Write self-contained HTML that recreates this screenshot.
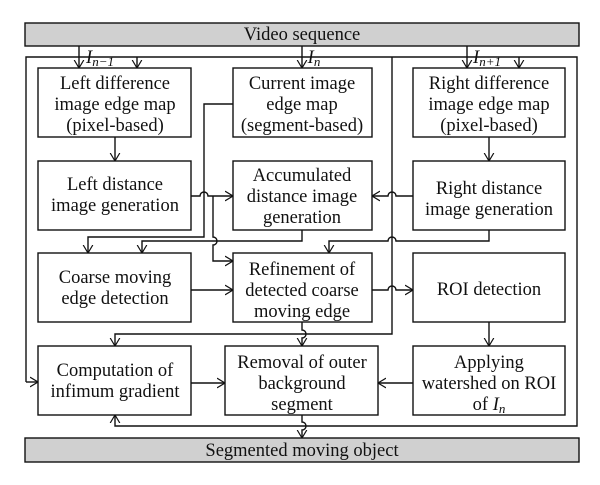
<!DOCTYPE html>
<html><head><meta charset="utf-8"><style>
html,body{margin:0;padding:0;background:#fff}
svg{display:block}
text{font-family:"Liberation Serif",serif;font-size:18.5px;fill:#111;text-anchor:middle}
.i{font-style:italic}
</style></head><body>
<svg width="600" height="485" viewBox="0 0 600 485" xmlns="http://www.w3.org/2000/svg">
<defs>
<marker id="a" viewBox="0 0 10 12" refX="10" refY="6" markerWidth="8" markerHeight="11" orient="auto" markerUnits="userSpaceOnUse">
<path d="M0,0 L10,6 L0,12" fill="none" stroke="#111" stroke-width="1.5"/></marker>
</defs>
<g fill="none" stroke="#111" stroke-width="1.4">
<rect x="25" y="23" width="554" height="23" fill="#d0d0d0"/>
<rect x="25" y="438" width="554" height="24" fill="#d0d0d0"/>
<path d="M26,382 V57 H577 V426 H302"/>
<path d="M26,382 H38" marker-end="url(#a)"/>
<path d="M302,426 H115 V415" marker-end="url(#a)"/>
<rect x="38" y="68" width="153" height="69"/>
<rect x="233" y="68" width="139" height="69"/>
<rect x="413" y="68" width="152" height="69"/>
<rect x="38" y="161" width="153" height="69"/>
<rect x="233" y="161" width="139" height="69"/>
<rect x="413" y="161" width="152" height="69"/>
<rect x="38" y="253" width="153" height="69"/>
<rect x="233" y="253" width="139" height="69"/>
<rect x="413" y="253" width="152" height="69"/>
<rect x="38" y="346" width="153" height="69"/>
<rect x="225" y="346" width="153" height="69"/>
<rect x="413" y="346" width="152" height="69"/>
<path d="M79,46 V68" marker-end="url(#a)"/>
<path d="M137,57 V68" marker-end="url(#a)"/>
<path d="M302,46 V68" marker-end="url(#a)"/>
<path d="M467,46 V68" marker-end="url(#a)"/>
<path d="M519,57 V68" marker-end="url(#a)"/>
<path d="M115,137 V161" marker-end="url(#a)"/>
<path d="M489,137 V161" marker-end="url(#a)"/>
<path d="M233,104 H204 V237 H88 V253" marker-end="url(#a)"/>
<path d="M191,196 H200 A4,4 0 0 1 208,196 H233" marker-end="url(#a)"/>
<path d="M213,196 V237 A4,4 0 0 1 213,245 V261 H233" marker-end="url(#a)"/>
<path d="M302,230 V241 H142 V253" marker-end="url(#a)"/>
<path d="M413,196 H396 A4,4 0 0 0 388,196 H372" marker-end="url(#a)"/>
<path d="M489,230 V241 H396 A4,4 0 0 0 388,241 H329 V253" marker-end="url(#a)"/>
<path d="M392,57 V334 H115 V346" marker-end="url(#a)"/>
<path d="M191,290 H233" marker-end="url(#a)"/>
<path d="M372,290 H388 A4,4 0 0 1 396,290 H413" marker-end="url(#a)"/>
<path d="M489,322 V346" marker-end="url(#a)"/>
<path d="M302,322 V330 A4,4 0 0 1 302,338 V346" marker-end="url(#a)"/>
<path d="M191,383 H225" marker-end="url(#a)"/>
<path d="M413,383 H378" marker-end="url(#a)"/>
<path d="M302,415 V422 A4,4 0 0 1 302,430 V438" marker-end="url(#a)"/>
</g>
<text x="302" y="40">Video sequence</text>
<text x="302" y="456">Segmented moving object</text>
<text class="i" x="100" y="63">I<tspan font-size="13" dy="3">n−1</tspan></text>
<text class="i" x="314" y="63">I<tspan font-size="13" dy="3">n</tspan></text>
<text class="i" x="487" y="63">I<tspan font-size="13" dy="3">n+1</tspan></text>
<text x="115" y="89">Left difference</text><text x="115" y="110">image edge map</text><text x="115" y="131">(pixel-based)</text>
<text x="302" y="89">Current image</text><text x="302" y="110">edge map</text><text x="302" y="131">(segment-based)</text>
<text x="489" y="89">Right difference</text><text x="489" y="110">image edge map</text><text x="489" y="131">(pixel-based)</text>
<text x="115" y="190">Left distance</text><text x="115" y="211">image generation</text>
<text x="302" y="181">Accumulated</text><text x="302" y="202">distance image</text><text x="302" y="223">generation</text>
<text x="489" y="194">Right distance</text><text x="489" y="215">image generation</text>
<text x="115" y="283">Coarse moving</text><text x="115" y="304">edge detection</text>
<text x="302" y="275">Refinement of</text><text x="302" y="296">detected coarse</text><text x="302" y="317">moving edge</text>
<text x="489" y="295">ROI detection</text>
<text x="115" y="376">Computation of</text><text x="115" y="397">infimum gradient</text>
<text x="302" y="368">Removal of outer</text><text x="302" y="389">background</text><text x="302" y="410">segment</text>
<text x="489" y="368">Applying</text><text x="489" y="389">watershed on ROI</text><text x="489" y="410">of <tspan class="i">I</tspan><tspan class="i" font-size="13" dy="3">n</tspan></text>
</svg>
</body></html>
